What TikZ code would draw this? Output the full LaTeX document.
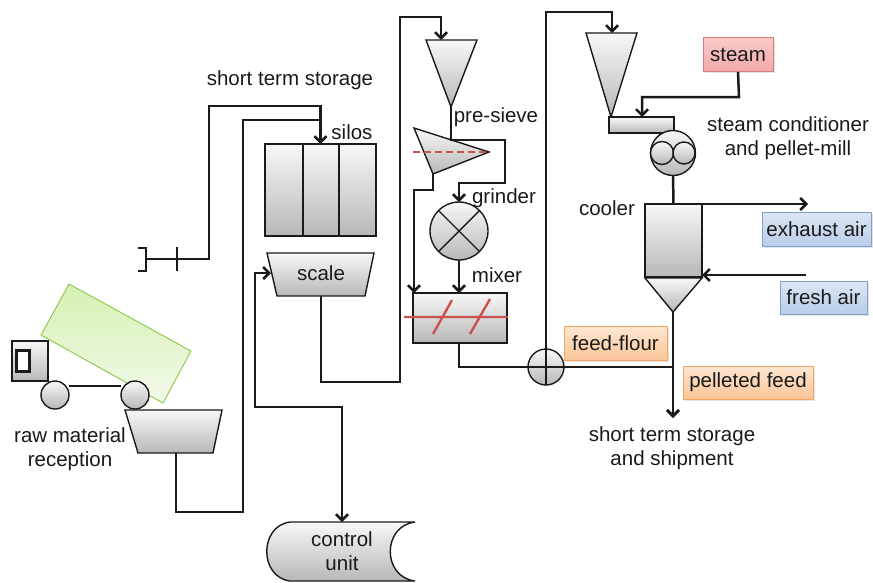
\documentclass[tikz,border=0pt]{standalone}
\usepackage{fontspec}
\setmainfont{Liberation Sans}
\usetikzlibrary{arrows.meta,shadows}
\definecolor{ink}{HTML}{1A1A1A}
\definecolor{cutline}{HTML}{C9524F}
\definecolor{bedline}{HTML}{92CC55}
\definecolor{bedtop}{HTML}{D6F0B2}
\definecolor{bedbot}{HTML}{F3FAEA}
\definecolor{redline}{HTML}{D77A7A}
\definecolor{redtop}{HTML}{F9CACA}
\definecolor{redbot}{HTML}{F2A9A9}
\definecolor{blueline}{HTML}{7F9FCC}
\definecolor{bluetop}{HTML}{DCE6F4}
\definecolor{bluebot}{HTML}{B9CCE8}
\definecolor{orline}{HTML}{F6A461}
\definecolor{ortop}{HTML}{FDE6D2}
\definecolor{orbot}{HTML}{FBC596}
\begin{document}
\begin{tikzpicture}[x=1pt,y=-1pt,
  flow/.style={draw=ink,line width=2.5pt},
  feed/.style={flow,-{Straight Barb[length=6pt,width=12pt]}},
  twoway/.style={flow,{Straight Barb[length=6pt,width=12pt]}-{Straight Barb[length=6pt,width=12pt]}},
  unit/.style={draw=ink,line width=1.4pt,top color=black!3,bottom color=black!28},
  unitnode/.style={unit,inner sep=0pt,outer sep=0pt},
  lbl/.style={font=\fontsize{20.5}{24}\selectfont,text=ink,inner sep=0pt,align=center},
  tag/.style={lbl,line width=0.9pt,inner sep=0pt,minimum height=34pt,
    drop shadow={opacity=0.22,shadow xshift=1.5pt,shadow yshift=-1.5pt}},
  redtag/.style={tag,draw=redline,top color=redtop,bottom color=redbot},
  bluetag/.style={tag,draw=blueline,top color=bluetop,bottom color=bluebot},
  ortag/.style={tag,draw=orline,top color=ortop,bottom color=orbot},
  cut/.style={draw=cutline,line width=2pt}
]
\useasboundingbox (0,0) rectangle (873,582);

% ---------- truck and reception hopper ----------
\path[draw=bedline,line width=1pt,top color=bedtop,bottom color=bedbot]
  (69,284) -- (191,351) -- (163,403) -- (41,335) -- cycle;
\node[unitnode,minimum width=36pt,minimum height=40pt] (cab) at (30,361) {};
\draw[ink,line width=3pt,fill=white] (16,350) rectangle (29,371);
\node[unitnode,circle,minimum size=28pt] (wheelA) at (55,395) {};
\node[unitnode,circle,minimum size=28pt] (wheelB) at (135,395) {};
\draw[flow] (wheelA.east |- 0,386) -- (wheelB.west |- 0,386);
\path[unit] (125,410) -- (222,410) -- (213,453) -- (138,453) -- cycle;
\coordinate (hopperOut) at (176,453);

% ---------- outside supply inlet ----------
\draw[flow] (138,248) -- (146,248) -- (146,271) -- (138,271);
\coordinate (inlet) at (146,259);
\draw[flow] (177,247) -- (177,271);

% ---------- silos and scale ----------
\node[unitnode,minimum width=111pt,minimum height=92pt] (silos) at (320.5,190) {};
\draw[ink,line width=1.4pt] (303,144) -- (303,236) (339,144) -- (339,236);
\path[unit] (267,253) -- (374,253) -- (365,296) -- (277,296) -- cycle;
\node[lbl] (scale) at (321,273) {scale};
\coordinate (scaleIn) at (271,273);
\coordinate (scaleOut) at (321,296);

% ---------- control unit ----------
\path[unit] (290,522) -- (415,522) .. controls (382,526) and (382,577) .. (415,581)
  -- (290,581) .. controls (259,577) and (259,526) .. (290,522) -- cycle;
\node[lbl] (control) at (342,551) {control\\unit};
\coordinate (controlTop) at (342,522);

% ---------- pre-sieve, grinder, mixer ----------
\path[unit] (426,40) -- (477,40) -- (451,107) -- cycle;
\coordinate (coneAin) at (441,40);
\coordinate (coneAout) at (451,107);
\path[unit] (414,128) -- (489,152) -- (433,174) -- cycle;
\draw[cut,dashed,dash pattern=on 7pt off 4pt] (413,152) -- (489,152);
\coordinate (sieveFine) at (433,174);
\node[unitnode,circle,minimum size=58pt] (grinder) at (459,231) {};
\draw[ink,line width=1.4pt] (grinder.north east) -- (grinder.south west)
  (grinder.north west) -- (grinder.south east);
\node[unitnode,minimum width=94pt,minimum height=50pt] (mixer) at (460,318) {};
\draw[cut,line width=2.4pt] (404,317) -- (508,317)
  (433,334) -- (452,300) (470,334) -- (490,299);
\node[unitnode,circle,minimum size=36pt] (merge) at (546,367) {};
\draw[ink,line width=1.4pt] (merge.north) -- (merge.south) (merge.west) -- (merge.east);

% ---------- pelleting line ----------
\path[unit] (586,33) -- (637,33) -- (611,117) -- cycle;
\coordinate (coneBin) at (612,33);
\node[unitnode,minimum width=65pt,minimum height=16pt] (cond) at (641.5,125) {};
\node[unitnode,circle,minimum size=45pt] (mill) at (673,153) {};
\node[unitnode,circle,minimum size=23pt] (rollA) at (662,153) {};
\node[unitnode,circle,minimum size=22pt] (rollB) at (684,153) {};
\node[unitnode,minimum width=57pt,minimum height=73pt] (cooler) at (673.5,240.5) {};
\path[unit] (645,278) -- (702,278) -- (673,312) -- cycle;
\coordinate (coolOut) at (673,312);
\coordinate (pelletJoin) at (673,367);
\coordinate (shipment) at (673,418);
\coordinate (exhaustEnd) at (808,204);
\coordinate (freshStart) at (806,275);

% ---------- connectors ----------
\draw[feed] (inlet) -- (209,259) -- (209,106) -- (silos.north |- 0,106) -- (silos.north);
\draw[flow] (hopperOut) -- (176,512) -- (243,512) -- (243,120) -- (silos.north |- 0,120);
\draw[twoway] (controlTop) -- (342,407) -- (255,407) -- (255,273) -- (scaleIn);
\draw[feed] (scaleOut) -- (321,382) -- (400,382) -- (400,17) -- (coneAin |- 0,17) -- (coneAin);
\draw[feed] (coneAout) -- (451,140) -- (505,140) -- (505,183) -- (grinder.north |- 0,183) -- (grinder.north);
\draw[feed] (sieveFine) -- (433,190) -- (414,190) -- (414,293);
\draw[feed] (grinder.south) -- (grinder.south |- mixer.north);
\draw[flow] (mixer.south -| 459,0) -- (459,367) -- (merge.west);
\draw[feed] (merge.north) -- (546,12) -- (coneBin |- 0,12) -- (coneBin);
\draw[flow] (merge.east) -- (pelletJoin);
\draw[flow] (mill.south) -- (cooler.north);
\draw[feed] (cooler.north east) -- (exhaustEnd);
\draw[feed] (freshStart) -- (cooler.south east |- freshStart);
\draw[flow] (coolOut) -- (pelletJoin);
\draw[feed,line width=2.9pt] (pelletJoin) -- (shipment);

% ---------- media tags ----------
\node[redtag,minimum width=70pt] (steam) at (738,54.5) {steam};
\draw[feed] (steam.south) -- (739,97) -- (642,97) -- (642,117);
\node[bluetag,minimum width=109pt] (exhaust) at (816.5,229.5) {exhaust air};
\node[bluetag,minimum width=87pt,minimum height=33pt] (fresh) at (823.5,297.5) {fresh air};
\node[ortag,minimum width=103pt] (flour) at (615.5,343.5) {feed-flour};
\node[ortag,minimum width=130pt,minimum height=33pt] (pellets) at (748,382.5) {pelleted feed};

% ---------- labels ----------
\node[lbl] (lblStore) at (290,80) {short term storage};
\node[lbl] (lblSilos) at (352,132) {silos};
\node[lbl] (lblSieve) at (496,117) {pre-sieve};
\node[lbl] (lblGrind) at (504,198) {grinder};
\node[lbl] (lblMix) at (497,275) {mixer};
\node[lbl] (lblMill) at (788,138) {steam conditioner\\and pellet-mill};
\node[lbl] (lblCool) at (607,208) {cooler};
\node[lbl] (lblRaw) at (70,449) {raw material\\reception};
\node[lbl] (lblShip) at (672,448) {short term storage\\and shipment};
\end{tikzpicture}
\end{document}
